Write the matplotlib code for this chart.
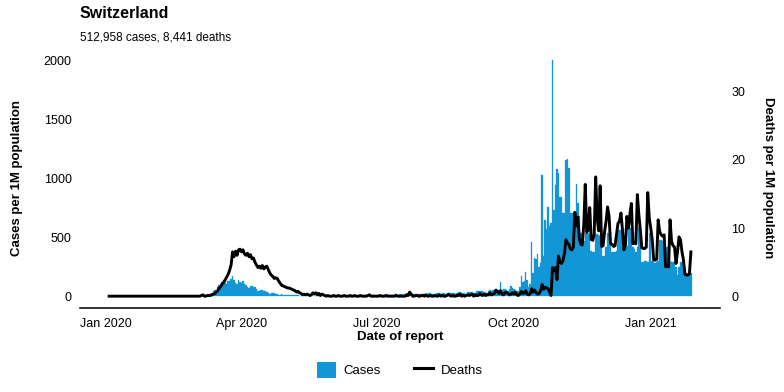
import matplotlib
matplotlib.use('Agg')
import matplotlib.pyplot as plt
import matplotlib.dates as mdates
import pandas as pd
from matplotlib.patches import Patch
from matplotlib.lines import Line2D

plt.rcParams['font.family'] = ['Liberation Sans', 'DejaVu Sans']

# ---------------- data (per 1M population, daily) ----------------
start_date = '2020-01-03'
title = 'Switzerland'
subtitle = '512,958 cases, 8,441 deaths'
tick_dates = ['2020-01-01', '2020-04-01', '2020-07-01', '2020-10-01', '2021-01-01']
tick_labels = ['Jan 2020', 'Apr 2020', 'Jul 2020', 'Oct 2020', 'Jan 2021']
left_ticks = [0, 500, 1000, 1500, 2000]
right_ticks = [0, 10, 20, 30]

cases_jan = [0, 0, 0, 0, 0, 0, 0, 0, 0, 0, 0, 0, 0, 0, 0, 0, 0, 0, 0, 0, 0, 0, 0, 0, 0, 0, 0, 0, 0]
cases_feb = [0, 0, 0, 0, 0, 0, 0, 0, 0, 0, 0, 0, 0, 0, 0, 0, 0, 0, 0, 0, 0, 0, 0, 0, 0, 0, 0, 0, 0]
cases_mar = [0, 0, 0, 1, 1, 2, 3, 4, 6, 10, 20, 30, 45, 55, 50, 75, 95, 90, 120, 136,
             110, 105, 130, 125, 150, 175, 140, 115, 100, 135, 120]
cases_apr = [110, 125, 105, 95, 80, 70, 85, 90, 80, 75, 60, 45, 40, 55, 50, 45, 40, 35, 25, 22,
             30, 28, 25, 22, 18, 12, 12, 15, 14, 12]
cases_may = [12, 10, 8, 9, 10, 9, 8, 7, 6, 5, 5, 6, 6, 5, 4, 3, 3, 3, 2, 3,
             3, 2, 2, 2, 2, 2, 2, 2, 3, 2, 2]
cases_jun = [2, 3, 3, 2, 3, 4, 2, 2, 3, 3, 4, 3, 2, 3, 3, 4, 3, 4, 4, 3,
             5, 5, 6, 7, 8, 8, 7, 8, 9, 8]
cases_jul = [10, 12, 11, 10, 9, 12, 14, 15, 14, 12, 13, 14, 16, 15, 14, 15, 17, 16, 14, 15,
             18, 16, 17, 16, 19, 20, 18, 22, 20, 19, 21]
cases_aug = [20, 22, 18, 21, 24, 25, 22, 20, 19, 24, 26, 24, 22, 25, 27, 22, 21, 28, 30, 26,
             24, 30, 22, 25, 32, 35, 30, 28, 24, 22, 34]
cases_sep = [36, 38, 34, 30, 28, 40, 42, 45, 40, 44, 38, 35, 30, 48, 50, 46, 52, 55, 40, 38,
             52, 120, 55, 60, 58, 50, 45, 62, 90, 70]
cases_oct = [60, 55, 45, 40, 80, 175, 120, 130, 205, 136, 80, 100, 462, 200, 323, 320, 357, 250, 280, 1030,
             343, 647, 570, 760, 600, 620, 2008, 730, 945, 1080, 1045]
cases_nov = [845, 845, 706, 706, 1160, 1166, 1090, 706, 706, 660, 660, 953, 790, 680, 536, 520, 470, 540, 536, 536,
             520, 380, 377, 377, 520, 530, 520, 510, 420, 340]
cases_dec = [340, 420, 533, 533, 530, 377, 377, 377, 380, 562, 562, 560, 420, 420, 420, 430, 576, 576, 570, 420,
             400, 377, 420, 576, 570, 292, 292, 295, 300, 290, 533]
cases_jan21 = [533, 300, 290, 285, 290, 300, 477, 477, 470, 420, 420, 420, 400, 300, 290, 290, 280, 250, 179, 250,
               290, 290, 280, 200, 179, 179, 185, 200]

deaths_jan = [0, 0, 0, 0, 0, 0, 0, 0, 0, 0, 0, 0, 0, 0, 0, 0, 0, 0, 0, 0, 0, 0, 0, 0, 0, 0, 0, 0, 0]
deaths_feb = [0, 0, 0, 0, 0, 0, 0, 0, 0, 0, 0, 0, 0, 0, 0, 0, 0, 0, 0, 0, 0, 0, 0, 0, 0, 0, 0, 0, 0]
deaths_mar = [0, 0, 0, 0, 0.1, 0.2, 0, 0, 0.1, 0.1, 0.1, 0.2, 0.3, 0.4, 0.6, 0.8, 1.2, 1.4, 1.8, 2.0,
              2.4, 2.8, 3.2, 3.8, 4.6, 6.5, 5.8, 6.6, 6.0, 6.8, 6.9]
deaths_apr = [6.5, 6.8, 6.2, 6.0, 6.3, 5.8, 6.1, 5.5, 5.6, 5.0, 4.6, 4.2, 4.4, 4.1, 4.5, 4.0, 4.3, 4.4, 3.9, 3.4,
              3.1, 2.9, 2.6, 2.7, 2.6, 2.2, 1.9, 1.6, 1.5, 1.4]
deaths_may = [1.3, 1.2, 1.2, 1.1, 1.0, 0.9, 0.8, 0.6, 0.7, 0.5, 0.4, 0.2, 0.3, 0.2, 0.3, 0.2, 0.1, 0.2, 0.5, 0.3,
              0.5, 0.2, 0.4, 0.1, 0.3, 0.2, 0.1, 0.0, 0.1, 0.0, 0.0]
deaths_jun = [0, 0.1, 0, 0, 0.1, 0, 0, 0, 0.1, 0, 0, 0, 0.1, 0, 0, 0.1, 0, 0, 0, 0.1,
              0, 0, 0, 0, 0.1, 0.2, 0, 0, 0, 0]
deaths_jul = [0, 0, 0.1, 0, 0, 0, 0.1, 0, 0, 0, 0, 0, 0, 0.1, 0, 0, 0, 0, 0, 0,
              0.2, 0.1, 0.6, 0.3, 0, 0, 0.1, 0.1, 0, 0, 0.1]
deaths_aug = [0.1, 0, 0.2, 0, 0, 0.1, 0, 0, 0.1, 0, 0, 0.2, 0, 0.1, 0, 0, 0.1, 0.3, 0.1, 0,
              0.1, 0, 0, 0.2, 0.1, 0.3, 0, 0.1, 0, 0.1, 0.2]
deaths_sep = [0.1, 0.2, 0.3, 0, 0.2, 0.1, 0.1, 0.4, 0.2, 0.1, 0.3, 0.1, 0.2, 0.2, 0.5, 0.2, 0.3, 0.4, 0.9, 0.7,
              0.4, 0.8, 0.3, 0.2, 0.5, 0.6, 0.4, 0.2, 0.3, 0.5]
deaths_oct = [0.3, 0.6, 0.2, 0.1, 0.3, 0.7, 0.4, 0.5, 0.8, 0.3, 0.2, 0.4, 1.1, 0.6, 0.9, 0.5, 0.3, 0.4, 0.8, 1.7,
              1.0, 1.3, 1.2, 1.1, 0.6, 0.1, 4.2, 3.8, 4.2, 2.4, 5.9]
deaths_nov = [5.0, 4.8, 5.2, 6.2, 8.3, 7.8, 7.6, 6.9, 6.8, 7.2, 12.3, 10.3, 11.6, 8.5, 7.6, 7.5, 10.5, 16.4, 9.4, 9.8,
              13.0, 8.3, 8.2, 9.0, 17.5, 11.5, 9.6, 16.2, 7.3, 7.4]
deaths_dec = [9.5, 11.0, 13.1, 11.7, 7.7, 7.6, 7.3, 7.4, 9.0, 10.7, 11.0, 12.2, 9.7, 6.8, 7.5, 11.7, 10.0, 12.0, 13.6, 7.7,
              7.8, 7.7, 14.9, 12.0, 9.7, 7.1, 7.0, 7.0, 7.2, 15.2, 11.5]
deaths_jan21 = [10.0, 8.3, 5.3, 5.3, 5.4, 11.2, 9.5, 9.0, 8.8, 9.0, 4.3, 4.4, 4.3, 11.2, 8.0, 7.4, 7.2, 4.8, 6.5, 8.7,
                8.3, 6.5, 5.3, 3.2, 3.1, 3.1, 3.3, 6.5]

cases = (cases_jan + cases_feb + cases_mar + cases_apr + cases_may + cases_jun + cases_jul +
         cases_aug + cases_sep + cases_oct + cases_nov + cases_dec + cases_jan21)
deaths = (deaths_jan + deaths_feb + deaths_mar + deaths_apr + deaths_may + deaths_jun + deaths_jul +
          deaths_aug + deaths_sep + deaths_oct + deaths_nov + deaths_dec + deaths_jan21)
assert len(cases) == len(deaths), (len(cases), len(deaths))
dates = pd.date_range(start_date, periods=len(cases))

BLUE = '#1296d6'
CASES_PER_DEATH = 57.9

# ---------------- figure ----------------
fig = plt.figure(figsize=(7.84, 3.92), dpi=100)
W, H = 784, 392
ax_left, ax_right, ax_top, ax_bottom = 80, 720, 48, 308
ax = fig.add_axes([ax_left / W, 1 - ax_bottom / H, (ax_right - ax_left) / W, (ax_bottom - ax_top) / H])

ax.bar(dates, cases, width=1.0, color=BLUE, edgecolor=BLUE, linewidth=0.2, zorder=1)

cmax = max(cases)
lo, hi = -0.05 * cmax, cmax * 1.05
ax.set_ylim(lo, hi)

d0, d1 = dates[0], dates[-1]
span = (d1 - d0).days
x0 = mdates.date2num(d0) - 0.05 * span
x1 = mdates.date2num(d1) + 0.05 * span
ax.set_xlim(x0, x1)

ax.set_xticks([mdates.date2num(pd.Timestamp(t)) for t in tick_dates])
ax.set_xticklabels(tick_labels)
ax.set_yticks(left_ticks)
ax.set_yticklabels([str(v) for v in left_ticks])

for s in ['top', 'right', 'left']:
    ax.spines[s].set_visible(False)
ax.spines['bottom'].set_linewidth(1.1)
ax.tick_params(axis='both', length=0, labelsize=9, colors='black')
ax.tick_params(axis='x', pad=7)
ax.tick_params(axis='y', pad=6)

ax.set_xlabel('Date of report', fontsize=9.5, fontweight='bold', labelpad=1)
ax.set_ylabel('Cases per 1M population', fontsize=9.5, fontweight='bold', labelpad=15)

ax2 = ax.twinx()
ax2.plot(dates, deaths, color='black', linewidth=2.1, solid_joinstyle='round', zorder=3)
ax2.set_ylim(lo / CASES_PER_DEATH, hi / CASES_PER_DEATH)
ax2.set_yticks(right_ticks)
ax2.set_yticklabels([str(v) for v in right_ticks])
for s in ['top', 'right', 'left', 'bottom']:
    ax2.spines[s].set_visible(False)
ax2.tick_params(axis='y', length=0, labelsize=9, pad=8)
ax2.set_ylabel('Deaths per 1M population', fontsize=9.5, fontweight='bold', rotation=270, labelpad=21)

fig.text(ax_left / W, 1 - 13 / H, title, fontsize=11.5, fontweight='bold', ha='left', va='center')
fig.text(ax_left / W, 1 - 37 / H, subtitle, fontsize=8.5, ha='left', va='center')

handles = [Patch(facecolor=BLUE, edgecolor='none'), Line2D([0], [0], color='black', linewidth=2.2)]
fig.legend(handles, ['Cases', 'Deaths'], loc='center', bbox_to_anchor=(400 / W, 1 - 370 / H),
           ncol=2, frameon=False, fontsize=9.5, handlelength=1.4, handleheight=1.6,
           columnspacing=2.5, handletextpad=0.6)

fig.savefig('out.png', dpi=100)
